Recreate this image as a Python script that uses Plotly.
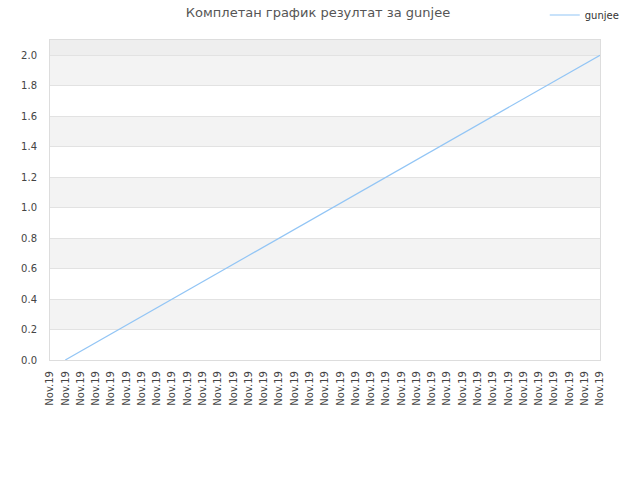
import plotly.graph_objects as go

# ---- data ----
x_labels = ["Nov.19"] * 37
series_name = "gunjee"
# first slot has no value; the line starts at the second slot
series_values = [None,
                 0.000, 0.057, 0.114, 0.171, 0.229, 0.286, 0.343, 0.400, 0.457, 0.514,
                 0.571, 0.629, 0.686, 0.743, 0.800, 0.857, 0.914, 0.971, 1.029, 1.086,
                 1.143, 1.200, 1.257, 1.314, 1.371, 1.429, 1.486, 1.543, 1.600, 1.657,
                 1.714, 1.771, 1.829, 1.886, 1.943, 2.000]
y_ticks = [0.0, 0.2, 0.4, 0.6, 0.8, 1.0, 1.2, 1.4, 1.6, 1.8, 2.0]
y_max = 2.1
title_text = "Комплетан график резултат за gunjee"

x_pos = list(range(len(x_labels)))

W, H = 640, 480

fig = go.Figure()
fig.add_trace(go.Scatter(
    x=x_pos, y=series_values, mode="lines", name=series_name,
    line=dict(color="#92c5f5", width=1.2), connectgaps=False,
))

shapes = []
# alternating bands
for i in range(len(y_ticks) - 1):
    if i % 2 == 1:
        shapes.append(dict(type="rect", xref="paper", yref="y", x0=0, x1=1,
                           y0=y_ticks[i], y1=y_ticks[i + 1],
                           fillcolor="#f3f3f3", line=dict(width=0), layer="below"))
shapes.append(dict(type="rect", xref="paper", yref="y", x0=0, x1=1,
                   y0=y_ticks[-1], y1=y_max,
                   fillcolor="#eeeeee", line=dict(width=0), layer="below"))

fig.update_layout(
    width=W, height=H,
    margin=dict(l=50, r=40, t=40, b=120, autoexpand=False),
    paper_bgcolor="white", plot_bgcolor="white",
    font=dict(family="DejaVu Sans", size=10, color="#444444"),
    title=dict(text=title_text, x=318 / W, xanchor="center", y=1 - 12 / H,
               yanchor="middle", font=dict(family="DejaVu Sans", size=13, color="#555555")),
    shapes=shapes,
    showlegend=True,
    legend=dict(x=1.045, xanchor="right", y=1 + 25 / 320, yanchor="middle",
                font=dict(size=10, color="#333333"), bgcolor="rgba(0,0,0,0)",
                itemwidth=30),
    xaxis=dict(
        range=[0, len(x_labels) - 1], tickmode="array", tickvals=x_pos, ticktext=x_labels,
        tickangle=-90, showgrid=False, zeroline=False, automargin=False,
        showline=True, linecolor="#dddddd", linewidth=1, mirror=True,
        ticks="outside", ticklen=6, tickcolor="rgba(0,0,0,0)",
        tickfont=dict(size=10, color="#444444"),
    ),
    yaxis=dict(
        range=[0, y_max], tickmode="array", tickvals=y_ticks,
        ticktext=[f"{v:.1f}" for v in y_ticks],
        showgrid=True, gridcolor="#e2e2e2", gridwidth=1, zeroline=False, automargin=False,
        showline=True, linecolor="#dddddd", linewidth=1, mirror=True,
        ticks="outside", ticklen=10, tickcolor="rgba(0,0,0,0)",
        tickfont=dict(size=10, color="#444444"),
    ),
)

# remove the browser's default page margin so the figure sits at the window's corner
fig.write_html("out.html", config={"displayModeBar": False},
               post_script="document.body.style.margin='0';")
